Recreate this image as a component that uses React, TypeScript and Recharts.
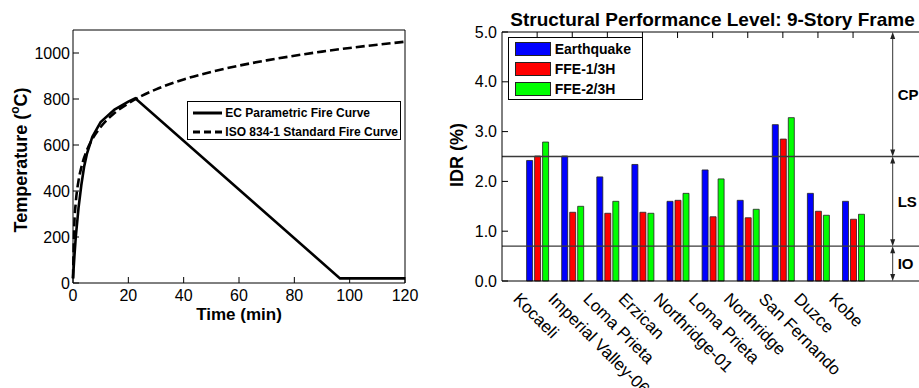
import React from "react";
import {
  LineChart, Line, BarChart, Bar, XAxis, YAxis, Legend, ReferenceLine, ReferenceArea, Label,
} from "recharts";

// fire curves: time (min) vs temperature (°C)
const ecTime = [0, 0.5, 1, 2, 3, 4, 5, 7, 10, 15, 20, 22.5, 96.5, 120];
const ecTemp = [20, 115, 200, 327, 425, 504, 560, 636, 700, 754, 789, 803, 20, 20];
const isoTime = [0, 0.5, 1, 2, 3, 5, 7, 10, 15, 20, 25, 30, 40, 50, 60, 70, 80, 90, 100, 110, 120];
const isoTemp = [20, 261, 349, 445, 502, 576, 626, 678, 739, 781, 815, 842, 885, 918, 945, 968, 988, 1006, 1022, 1036, 1049];
const timeTicks = [0, 20, 40, 60, 80, 100, 120];
const tempTicks = [0, 200, 400, 600, 800, 1000];

// inter-story drift ratio per ground motion record
const records = [
  "Kocaeli", "Imperial Valley-06", "Loma Prieta", "Erzican", "Northridge-01",
  "Loma Prieta", "Northridge", "San Fernando", "Duzce", "Kobe",
];
const earthquake = [2.42, 2.51, 2.09, 2.34, 1.6, 2.23, 1.62, 3.14, 1.76, 1.6];
const ffe1 = [2.51, 1.38, 1.36, 1.38, 1.62, 1.29, 1.27, 2.85, 1.4, 1.24];
const ffe2 = [2.79, 1.5, 1.6, 1.36, 1.76, 2.05, 1.44, 3.28, 1.32, 1.34];
const idrTicks = [0, 1, 2, 3, 4, 5];
const levelNames = ["IO", "LS", "CP"];
const levelBounds = [0, 0.7, 2.5, 5.0];

const ecData = ecTime.map((t, i) => ({ time: t, temp: ecTemp[i] }));
const isoData = isoTime.map((t, i) => ({ time: t, temp: isoTemp[i] }));
const idrData = records.map((name, i) => ({
  name, earthquake: earthquake[i], ffe1: ffe1[i], ffe2: ffe2[i],
}));

const FONT = '"Liberation Sans", Arial, Helvetica, sans-serif';
const TICK = 6;

// matlab style ticks: marks point into the plot, labels stay outside
const BottomTick = ({ x, y, payload }: any) => (
  <g>
    <line x1={x} x2={x} y1={y} y2={y - TICK} stroke="#000" />
    <text x={x} y={y + 7} dy="0.71em" textAnchor="middle" fontSize={16} fill="#000">{payload.value}</text>
  </g>
);
const TopTick = ({ x, y }: any) => <line x1={x} x2={x} y1={y} y2={y + TICK} stroke="#000" />;
const RightTick = ({ x, y }: any) => <line x1={x} x2={x - TICK} y1={y} y2={y} stroke="#000" />;
const TempTick = ({ x, y, payload }: any) => (
  <g>
    <line x1={x} x2={x + TICK} y1={y} y2={y} stroke="#000" />
    <text x={x - 3} y={y} textAnchor="end" dominantBaseline="central" fontSize={16} fill="#000">
      {payload.value}
    </text>
  </g>
);
const IdrTick = ({ x, y, payload }: any) => (
  <g>
    <line x1={x} x2={x + TICK} y1={y} y2={y} stroke="#000" />
    <text x={x - 5} y={y} textAnchor="end" dominantBaseline="central" fontSize={16} fill="#000">
      {Number(payload.value).toFixed(1)}
    </text>
  </g>
);
const RecordTick = ({ x, y, payload }: any) => {
  const ax = x - 25;
  const ay = y + 19;
  return (
    <text x={ax} y={ay} transform={`rotate(45 ${ax} ${ay})`} fontSize={17} fill="#000">
      {payload.value}
    </text>
  );
};

const FireLegend = ({ payload }: any) => (
  <div style={{
    width: 214, height: 39, boxSizing: "border-box", border: "1.5px solid #000",
    background: "#fff", padding: "2px 0 0 5px",
  }}>
    {(payload || []).map((item: any, i: number) => (
      <div key={item.value} style={{ display: "flex", alignItems: "center", height: 18.4 }}>
        <svg width={29} height={6}>
          <line x1={0} x2={29} y1={3} y2={3} stroke="#000" strokeWidth={3}
            strokeDasharray={i === 1 ? "7 4" : undefined} />
        </svg>
        <span style={{ marginLeft: 3, fontSize: 12, fontWeight: "bold", color: "#000" }}>{item.value}</span>
      </div>
    ))}
  </div>
);

const IdrLegend = ({ payload }: any) => (
  <div style={{
    width: 135, height: 63, boxSizing: "border-box", border: "1.5px solid #000",
    background: "#fff", padding: "1px 0 0 6px",
  }}>
    {(payload || []).map((item: any) => (
      <div key={item.value} style={{ display: "flex", alignItems: "center", height: 20 }}>
        <div style={{
          width: 36, height: 14, boxSizing: "border-box", background: item.color, border: "1px solid #222",
        }} />
        <span style={{ marginLeft: 4, fontSize: 14, fontWeight: "bold", color: "#000" }}>{item.value}</span>
      </div>
    ))}
  </div>
);

// x / width here follow the padded band range of the category axis
const LevelMark = ({ x, y, width, height, tag }: any) => {
  const ax = x + width + 22.1;
  const top = y;
  const bot = y + height;
  return (
    <g>
      <line x1={ax} x2={ax} y1={top + 3} y2={bot - 3} stroke="#333" strokeWidth={1} />
      <path d={`M${ax},${top} l-2.5,7 h5 z`} fill="#222" />
      <path d={`M${ax},${bot} l-2.5,-7 h5 z`} fill="#222" />
      <text x={ax + 5} y={(top + bot) / 2} dominantBaseline="central" fontSize={15} fontWeight="bold" fill="#000">
        {tag}
      </text>
    </g>
  );
};

const TempLabel = () => (
  <text x={21} y={160} transform="rotate(-90 21 160)" textAnchor="middle" dominantBaseline="central"
    fontSize={18} fontWeight="bold" fill="#000">
    Temperature (<tspan dy={-6} fontSize={12}>o</tspan><tspan dy={6}>C)</tspan>
  </text>
);

const IdrLabel = () => (
  <text x={17.3} y={155} transform="rotate(-90 17.3 155)" textAnchor="middle" dominantBaseline="central"
    fontSize={18} fontWeight="bold" fill="#000">
    IDR (%)
  </text>
);

export default function App() {
  return (
    <div style={{
      position: "absolute", left: 0, top: 0, width: 919, height: 388, overflow: "hidden",
      background: "#fff", fontFamily: FONT,
    }}>
      <div style={{ position: "absolute", left: 0, top: 0 }}>
        <LineChart width={460} height={388} margin={{ top: 29, right: 54, bottom: 75, left: 0 }}>
          <XAxis dataKey="time" type="number" domain={[0, 120]} ticks={timeTicks} height={30}
            tickLine={false} tickSize={0} tickMargin={0} tick={BottomTick} stroke="#000">
            <Label value="Time (min)" position="bottom" offset={-5} fontSize={17} fontWeight="bold" fill="#000" />
          </XAxis>
          <XAxis xAxisId="top" orientation="top" dataKey="time" type="number" domain={[0, 120]}
            ticks={timeTicks} height={1} tickLine={false} tickSize={0} tickMargin={0} tick={TopTick} stroke="#000" />
          <YAxis domain={[0, 1100]} ticks={tempTicks} width={73} tickLine={false} tickSize={0} tickMargin={0}
            tick={TempTick} stroke="#000">
            <Label content={TempLabel} />
          </YAxis>
          <YAxis yAxisId="r" orientation="right" domain={[0, 1100]} ticks={tempTicks} width={1}
            tickLine={false} tickSize={0} tickMargin={0} tick={RightTick} stroke="#000" />
          <Legend content={<FireLegend />} layout="horizontal" verticalAlign="middle" align="center"
            wrapperStyle={{ left: 187.3, top: 101, width: 214, height: 39 }} />
          <Line data={ecData} dataKey="temp" name="EC Parametric Fire Curve" stroke="#000" strokeWidth={2.6}
            dot={false} type="linear" isAnimationActive={false} />
          <Line data={isoData} dataKey="temp" name="ISO 834-1 Standard Fire Curve" stroke="#000"
            strokeWidth={2.6} strokeDasharray="9 4" dot={false} type="monotone" isAnimationActive={false} />
        </LineChart>
      </div>

      <div style={{ position: "absolute", left: 440, top: 0, width: 490, height: 388 }}>
        <BarChart width={490} height={388} data={idrData} margin={{ top: 31, right: 6, bottom: 7, left: 0 }}
          barSize={6} barGap={2}>
          <XAxis dataKey="name" height={100} interval={0} padding={{ left: 17.6, right: 52.4 }}
            tickLine={false} tickSize={0} tickMargin={0} tick={<RecordTick />} stroke="#000" />
          <XAxis xAxisId="top" orientation="top" dataKey="name" height={1} interval={0}
            padding={{ left: 17.6, right: 52.4 }} tickLine={false} tickSize={0} tickMargin={0} tick={TopTick}
            stroke="#000">
            <Label value="Structural Performance Level: 9-Story Frame" position="top" offset={5}
              fontSize={19} fontWeight="bold" fill="#000" />
          </XAxis>
          <YAxis domain={[0, 5]} ticks={idrTicks} width={62} tickLine={false} tickSize={0} tickMargin={0}
            tick={IdrTick} stroke="#000">
            <Label content={IdrLabel} />
          </YAxis>
          <YAxis yAxisId="r" orientation="right" domain={[0, 5]} ticks={idrTicks} width={1}
            tickLine={false} tickSize={0} tickMargin={0} tick={RightTick} stroke="#000" />
          <Legend content={<IdrLegend />} layout="horizontal" verticalAlign="middle" align="center"
            wrapperStyle={{ left: 67.7, top: 37.3, width: 135, height: 63 }} />
          {levelNames.map((tag, i) => (
            <ReferenceArea key={tag} y1={levelBounds[i]} y2={levelBounds[i + 1]} fill="none" stroke="none"
              ifOverflow="visible" shape={(p: any) => <LevelMark {...p} tag={tag} />} />
          ))}
          <Bar dataKey="earthquake" name="Earthquake" fill="#0000ff" stroke="#222" strokeWidth={0.8}
            isAnimationActive={false} />
          <Bar dataKey="ffe1" name="FFE-1/3H" fill="#ff0000" stroke="#222" strokeWidth={0.8}
            isAnimationActive={false} />
          <Bar dataKey="ffe2" name="FFE-2/3H" fill="#00ff00" stroke="#222" strokeWidth={0.8}
            isAnimationActive={false} />
          <ReferenceLine y={levelBounds[2]} stroke="#3a3a3a" strokeWidth={1.3} ifOverflow="visible" />
          <ReferenceLine y={levelBounds[1]} stroke="#3a3a3a" strokeWidth={1.3} ifOverflow="visible" />
        </BarChart>
      </div>
    </div>
  );
}
